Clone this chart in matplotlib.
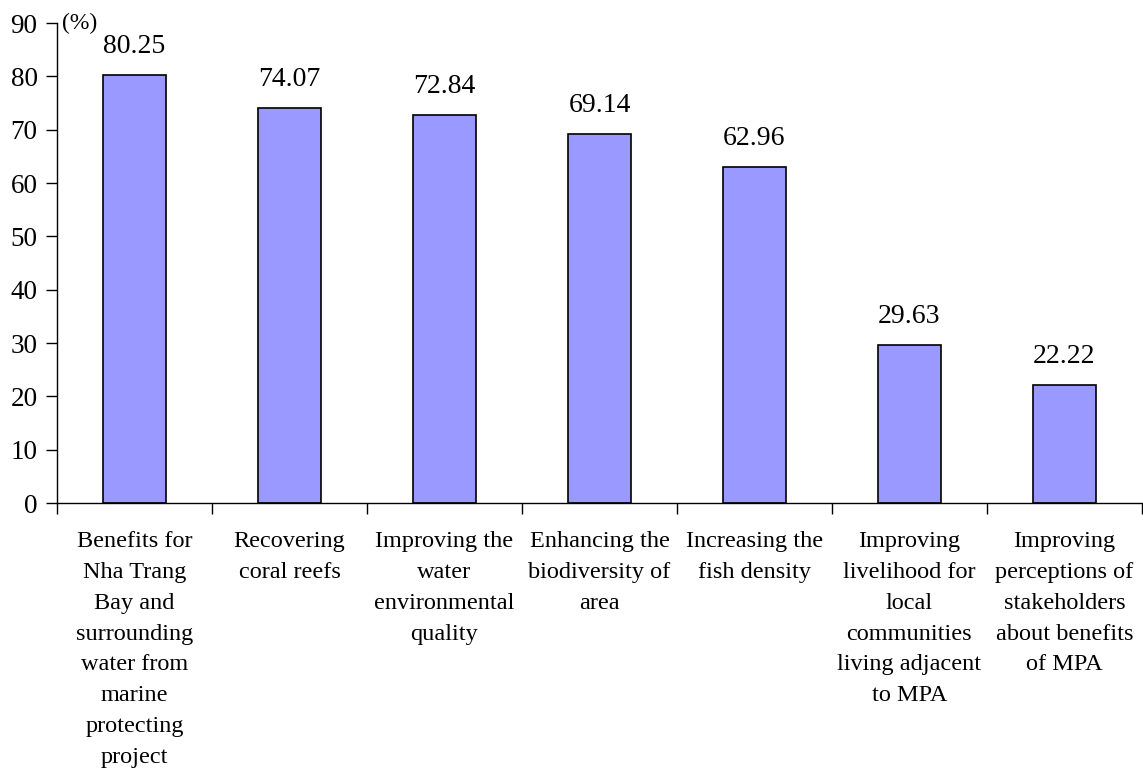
import matplotlib
matplotlib.use("Agg")
import matplotlib.pyplot as plt
import numpy as np

categories = [
    "Benefits for\nNha Trang\nBay and\nsurrounding\nwater from\nmarine\nprotecting\nproject",
    "Recovering\ncoral reefs",
    "Improving the\nwater\nenvironmental\nquality",
    "Enhancing the\nbiodiversity of\narea",
    "Increasing the\nfish density",
    "Improving\nlivelihood for\nlocal\ncommunities\nliving adjacent\nto MPA",
    "Improving\nperceptions of\nstakeholders\nabout benefits\nof MPA",
]
values = [80.25, 74.07, 72.84, 69.14, 62.96, 29.63, 22.22]
value_labels = ["80.25", "74.07", "72.84", "69.14", "62.96", "29.63", "22.22"]
yticks = [0, 10, 20, 30, 40, 50, 60, 70, 80, 90]

plt.rcParams['font.family'] = ['Liberation Serif', 'DejaVu Serif']

fig = plt.figure(figsize=(11.43, 7.72), dpi=100)
ax = fig.add_axes([0.0499, 0.3484, 0.9491, 0.6216])

x = np.arange(len(values))
ax.bar(x, values, width=0.41, color='#9999ff', edgecolor='black', linewidth=1.2, zorder=2)

for xi, v, lab in zip(x, values, value_labels):
    ax.text(xi, v + 3.0, lab, ha='center', va='bottom', fontsize=20)

ax.set_xlim(-0.5, len(values) - 0.5)
ax.set_ylim(0, 90)
ax.set_yticks(yticks)
ax.tick_params(axis='y', labelsize=19.5, length=8, width=1, pad=6)

# category boundaries get the tick marks, labels sit at the bar centres
ax.set_xticks(np.arange(len(values) + 1) - 0.5)
ax.set_xticklabels([])
ax.tick_params(axis='x', which='major', length=8, width=1, direction='out')
ax.set_xticks(x, minor=True)
ax.set_xticklabels(categories, minor=True, fontsize=17.5, linespacing=1.62)
ax.tick_params(axis='x', which='minor', length=0, pad=20)

for s in ['top', 'right']:
    ax.spines[s].set_visible(False)
for s in ['left', 'bottom']:
    ax.spines[s].set_linewidth(1)

ax.text(0.005, 1.0, "(%)", transform=ax.transAxes, ha='left', va='center', fontsize=17)

fig.savefig("out.png", dpi=100)
